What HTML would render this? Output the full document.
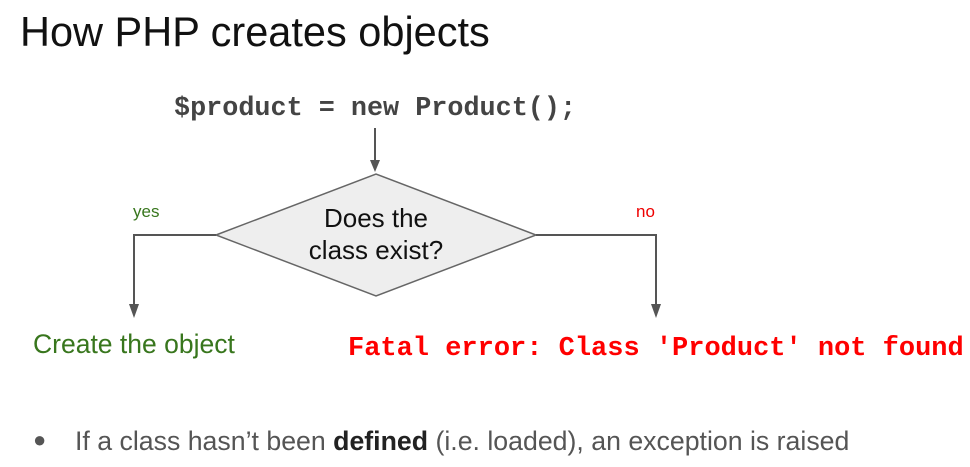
<!DOCTYPE html>
<html><head><style>
body{margin:0;width:970px;height:467px;background:#fff;position:relative;overflow:hidden;font-family:"Liberation Sans",sans-serif}
.t{position:absolute;white-space:nowrap}
</style></head><body>
<div class="t" style="left:20px;top:8px;font-size:41.5px;color:#111">How PHP creates objects</div>
<div class="t" style="left:174px;top:94px;font-family:'Liberation Mono',monospace;font-weight:bold;font-size:26.8px;color:#444">$product = new Product();</div>
<svg width="970" height="467" style="position:absolute;left:0;top:0">
<polygon points="216,235 376,174 536,235 376,296" fill="#eeeeee" stroke="#666" stroke-width="1.5"/>
<g stroke="#555" stroke-width="2" fill="none">
<line x1="375" y1="128" x2="375" y2="162"/>
<polyline points="216,235 134,235 134,306"/>
<polyline points="536,235 656,235 656,306"/>
</g>
<g fill="#555">
<polygon points="370,160 380,160 375,172"/>
<polygon points="129,304 139,304 134,318"/>
<polygon points="651,304 661,304 656,318"/>
</g>
</svg>
<div class="t" style="left:276px;top:202px;width:200px;text-align:center;font-size:26px;line-height:32px;color:#111">Does the<br>class exist?</div>
<div class="t" style="left:133px;top:202px;font-size:17px;color:#38761d">yes</div>
<div class="t" style="left:636px;top:202px;font-size:17px;color:#e00">no</div>
<div class="t" style="left:33px;top:329px;font-size:26.5px;color:#38761d">Create the object</div>
<div class="t" style="left:348px;top:334px;font-family:'Liberation Mono',monospace;font-weight:bold;font-size:27px;color:#f00">Fatal error: Class 'Product' not found</div>
<div class="t" style="left:33px;top:427px;font-size:22px;color:#555">●</div>
<div class="t" style="left:75px;top:426px;font-size:26.7px;color:#555">If a class hasn’t been <b style="color:#222">defined</b> (i.e. loaded), an exception is raised</div>
</body></html>
